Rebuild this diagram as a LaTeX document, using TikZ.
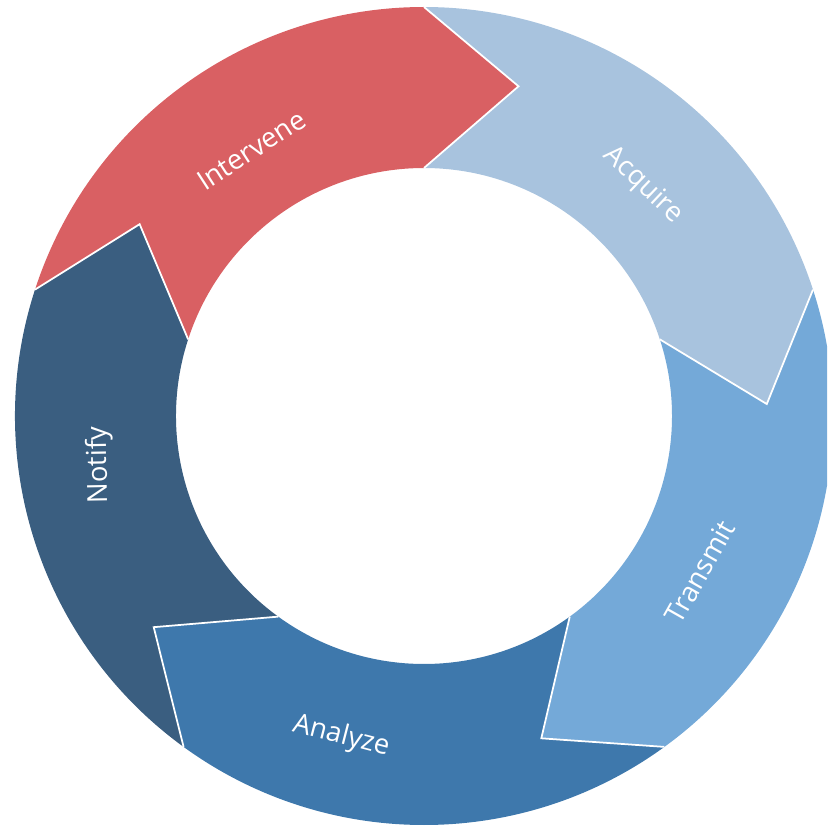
\documentclass[tikz,border=0pt]{standalone}
\usepackage{fontspec}
\setmainfont{Open Sans}
\definecolor{cInter}{RGB}{217,96,99}
\definecolor{cAcq}{RGB}{168,195,222}
\definecolor{cTrans}{RGB}{116,169,216}
\definecolor{cAnal}{RGB}{62,120,172}
\definecolor{cNotif}{RGB}{58,94,128}
\newcommand\Ro{409}
\newcommand\Ri{248}
\newcommand\Rt{343}
\newcommand\ringseg[2]{%
  \fill[#2] (#1+72:\Ro) arc[start angle=#1+72, end angle=#1, radius=\Ro]
    -- (#1-16:\Rt) -- (#1:\Ri) arc[start angle=#1, end angle=#1+72, radius=\Ri]
    -- (#1+56:\Rt) -- cycle;}
\newcommand\ringedge[1]{%
  \draw[edgeline] (#1:\Ro) -- (#1-16:\Rt) -- (#1:\Ri);}
\begin{document}
\begin{tikzpicture}[x=0.03cm,y=0.03cm,
  lbl/.style={text=white, font=\fontsize{23.5}{28}\selectfont, inner sep=0pt},
  edgeline/.style={draw=white, line width=1.5pt}]
\useasboundingbox (-424,-415) rectangle (403,416);
\clip (-424,-415) rectangle (403,416);
\ringseg{90}{cInter}
\ringseg{18}{cAcq}
\ringseg{-54}{cTrans}
\ringseg{-126}{cAnal}
\ringseg{-198}{cNotif}
\ringedge{90}
\ringedge{18}
\ringedge{-54}
\ringedge{-126}
\ringedge{-198}
\node[lbl, rotate=33] (intervene) at (123:317) {Intervene};
\node[lbl, rotate=-43.5] (acquire) at (46.5:318) {Acquire};
\node[lbl, rotate=60.5] (transmit) at (-29.5:317) {Transmit};
\node[lbl, rotate=-14.5] (analyze) at (-104.5:331) {Analyze};
\node[lbl, rotate=91] (notify) at (188.6:328) {Notify};
\end{tikzpicture}
\end{document}
